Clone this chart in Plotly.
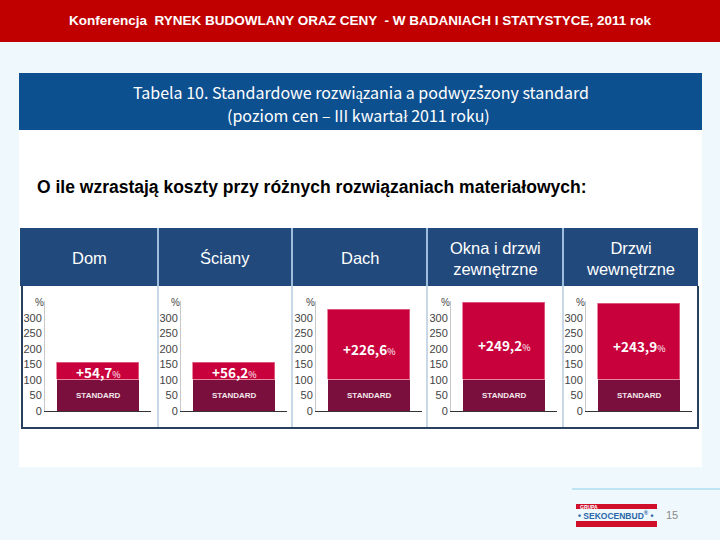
import plotly.graph_objects as go

# ---- data ----
categories = ["Dom", "Ściany", "Dach", "Okna i drzwi<br>zewnętrzne", "Drzwi<br>wewnętrzne"]
standard = [100, 100, 100, 100, 100]
increase = [54.7, 56.2, 226.6, 249.2, 243.9]
increase_labels = ["+54,7", "+56,2", "+226,6", "+249,2", "+243,9"]
tick_vals = [0, 50, 100, 150, 200, 250, 300]

W, H = 720, 540
def X(px): return px / W
def Y(py): return 1 - py / H

BG = "#eef8fd"
MAROON = "#7a0f3e"
RED = "#c8003c"
HEAD_BLUE = "#22497c"

fig = go.Figure()

axis_left = [45, 181, 316, 451, 586]
axis_w = 106
y0_px, ytop_px = 411, 300.6
yrange = [0, (y0_px - ytop_px) / 0.311]

shapes = []
annotations = []

def ann(x, y, text, size, color, family="Liberation Sans", xa="center", ya="middle", **kw):
    d = dict(xref="paper", yref="paper", x=X(x), y=Y(y), text=text, showarrow=False,
             xanchor=xa, yanchor=ya, font=dict(family=family, size=size, color=color))
    d.update(kw)
    annotations.append(d)

# slide background pieces
shapes.append(dict(type="rect", xref="paper", yref="paper", x0=0, x1=1, y0=Y(42), y1=1,
                   fillcolor="#c00000", line_width=0, layer="below"))
shapes.append(dict(type="rect", xref="paper", yref="paper", x0=X(19), x1=X(702), y0=Y(467), y1=Y(130),
                   fillcolor="#ffffff", line_width=0, layer="below"))
shapes.append(dict(type="rect", xref="paper", yref="paper", x0=X(19), x1=X(702), y0=Y(130), y1=Y(73),
                   fillcolor="#0d5090", line_width=0, layer="below"))
shapes.append(dict(type="rect", xref="paper", yref="paper", x0=X(20), x1=X(698), y0=Y(286), y1=Y(228),
                   fillcolor=HEAD_BLUE, line_width=0, layer="below"))
col_div = [158, 292, 427, 563]
for cx in col_div:
    shapes.append(dict(type="line", xref="paper", yref="paper", x0=X(cx), x1=X(cx), y0=Y(286), y1=Y(228),
                       line=dict(color="#9fbddc", width=2), layer="below"))
    shapes.append(dict(type="line", xref="paper", yref="paper", x0=X(cx), x1=X(cx), y0=Y(427), y1=Y(286),
                       line=dict(color="#c9d8e6", width=2), layer="below"))
shapes.append(dict(type="line", xref="paper", yref="paper", x0=X(22), x1=X(22), y0=Y(428), y1=Y(286),
                   line=dict(color="#27405e", width=2)))
shapes.append(dict(type="line", xref="paper", yref="paper", x0=X(698), x1=X(698), y0=Y(428), y1=Y(286),
                   line=dict(color="#27405e", width=2)))
shapes.append(dict(type="line", xref="paper", yref="paper", x0=X(21), x1=X(699), y0=Y(428), y1=Y(428),
                   line=dict(color="#27405e", width=2)))
# footer line and logo
shapes.append(dict(type="line", xref="paper", yref="paper", x0=X(572), x1=1, y0=Y(489), y1=Y(489),
                   line=dict(color="#8fcfe6", width=1)))
shapes.append(dict(type="rect", xref="paper", yref="paper", x0=X(576), x1=X(657), y0=Y(509), y1=Y(504),
                   fillcolor="#d0102a", line_width=0))
shapes.append(dict(type="rect", xref="paper", yref="paper", x0=X(576), x1=X(657), y0=Y(527), y1=Y(521),
                   fillcolor="#d0102a", line_width=0))

layout_axes = {}
header_x = [89, 225, 360, 495, 630]
for i, (cat, s, inc, lab) in enumerate(zip(categories, standard, increase, increase_labels)):
    n = "" if i == 0 else str(i + 1)
    xa, ya = "x" + n, "y" + n
    fig.add_trace(go.Bar(x=[0], y=[s], width=0.774, marker=dict(color=MAROON, line_width=0),
                         xaxis=xa, yaxis=ya, showlegend=False, hoverinfo="skip"))
    fig.add_trace(go.Bar(x=[0], y=[inc], width=0.774,
                         marker=dict(color=RED, line=dict(color="#e26a8a", width=0.8)),
                         xaxis=xa, yaxis=ya, showlegend=False, hoverinfo="skip"))
    xl = axis_left[i]
    layout_axes["xaxis" + n] = dict(domain=[X(xl), X(xl + axis_w)], range=[-0.5, 0.5],
                                    showticklabels=False, showgrid=False, zeroline=False,
                                    showline=True, linecolor="#333333", linewidth=1,
                                    anchor=ya, fixedrange=True, automargin=False)
    layout_axes["yaxis" + n] = dict(domain=[Y(y0_px), Y(ytop_px)], range=yrange,
                                    tickvals=tick_vals, ticks="", showgrid=False, zeroline=False,
                                    showline=True, linecolor="#c8c8c8", linewidth=1,
                                    tickfont=dict(family="Liberation Sans", size=11, color="#444444"),
                                    anchor=xa, fixedrange=True, automargin=False)
    annotations.append(dict(xref=xa, yref=ya, x=0, y=s / 2, text="<b>STANDARD</b>", showarrow=False,
                            xanchor="center", yanchor="middle",
                            font=dict(family="Liberation Sans", size=8, color="#f2e6ea")))
    annotations.append(dict(xref=xa, yref=ya, x=0, y=s + inc / 2, yshift=-1 if inc < 100 else -4,
                            xanchor="center", yanchor="middle",
                            text="<b>" + lab + "</b><span style='font-size:9px'>%</span>",
                            showarrow=False,
                            font=dict(family="Noto Sans CJK JP", size=13.5, color="#ffffff")))
    ann(xl - 6, 302, "%", 10, "#444444")
    ann(header_x[i], 258, cat, 16.5, "#ffffff")

ann(360, 21, "<b>Konferencja  RYNEK BUDOWLANY ORAZ CENY  - W BADANIACH I STATYSTYCE, 2011 rok</b>",
    13.5, "#ffffff")
ann(361, 92, "Tabela 10. Standardowe rozwiązania a podwyższony standard", 16, "#ffffff",
    family="Noto Sans CJK JP")
ann(358, 115, "(poziom cen – III kwartał 2011 roku)", 16, "#ffffff", family="Noto Sans CJK JP")
ann(35, 187, "<b>O ile wzrastają koszty przy różnych rozwiązaniach materiałowych:</b>", 17.5, "#000000",
    xa="left")
ann(578, 506.5, "<b>GRUPA</b>", 5, "#ffffff", xa="left")
ann(616, 515, "<b>• SEKOCENBUD<sup>®</sup> •</b>", 8.5, "#2a66a8")
ann(664, 515, "15", 11, "#8a8a8a", xa="left")

fig.update_layout(width=W, height=H, margin=dict(l=0, r=0, t=0, b=0, pad=0, autoexpand=False),
                  paper_bgcolor=BG, plot_bgcolor="rgba(0,0,0,0)", barmode="stack", bargap=0,
                  shapes=shapes, annotations=annotations, **layout_axes)

post = ("var d=document.documentElement,b=document.body;"
        "d.style.margin='0';d.style.padding='0';d.style.overflow='hidden';d.style.height='540px';"
        "b.style.margin='0';b.style.padding='0';b.style.overflow='hidden';b.style.height='540px';")
fig.write_html("out.html", config={"displayModeBar": False}, post_script=post)
